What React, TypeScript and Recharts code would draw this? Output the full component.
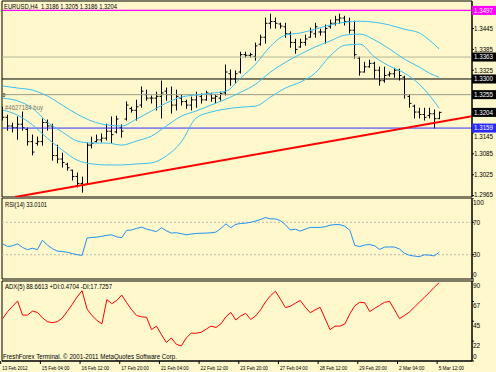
import React from 'react';
import { ComposedChart, Line, Bar, XAxis, YAxis, ReferenceLine, ReferenceArea } from 'recharts';

// ---------- data ----------
const opens = [1.3200,1.3190,1.3165,1.3160,1.3170,1.3155,1.3120,1.3115,1.3120,1.3175,
1.3165,1.3080,1.3070,1.3055,1.3038,1.3020,1.3000,1.2998,1.3110,1.3120,
1.3125,1.3130,1.3150,1.3148,1.3160,1.3185,1.3215,1.3210,1.3225,1.3255,
1.3245,1.3245,1.3250,1.3265,1.3255,1.3225,1.3245,1.3235,1.3225,1.3240,
1.3250,1.3240,1.3255,1.3245,1.3245,1.3260,1.3315,1.3300,1.3320,1.3370,
1.3368,1.3365,1.3400,1.3420,1.3460,1.3465,1.3458,1.3450,1.3430,1.3405,
1.3392,1.3405,1.3420,1.3430,1.3435,1.3435,1.3450,1.3460,1.3470,1.3475,
1.3465,1.3440,1.3360,1.3320,1.3335,1.3345,1.3325,1.3295,1.3312,1.3315,
1.3325,1.3305,1.3250,1.3222,1.3205,1.3198,1.3195,1.3200,1.3186];
const highs = [1.3219,1.3196,1.3173,1.3191,1.3205,1.3159,1.3139,1.3133,1.3185,1.3182,
1.3170,1.3110,1.3087,1.3058,1.3038,1.3030,1.3018,1.3116,1.3133,1.3139,
1.3142,1.3170,1.3191,1.3193,1.3168,1.3234,1.3219,1.3239,1.3277,1.3268,
1.3251,1.3262,1.3294,1.3274,1.3277,1.3268,1.3254,1.3239,1.3248,1.3262,
1.3257,1.3265,1.3259,1.3254,1.3262,1.3340,1.3326,1.3323,1.3377,1.3377,
1.3374,1.3403,1.3426,1.3475,1.3486,1.3475,1.3460,1.3460,1.3435,1.3414,
1.3414,1.3426,1.3446,1.3460,1.3443,1.3455,1.3469,1.3480,1.3486,1.3480,
1.3475,1.3466,1.3363,1.3348,1.3354,1.3348,1.3334,1.3334,1.3320,1.3331,
1.3328,1.3308,1.3254,1.3225,1.3216,1.3216,1.3216,1.3211,1.3205];
const lows = [1.3182,1.3153,1.3148,1.3127,1.3153,1.3110,1.3082,1.3110,1.3110,1.3153,
1.3067,1.3059,1.3047,1.3038,1.3010,1.2990,1.2975,1.2998,1.3102,1.3119,
1.3119,1.3125,1.3116,1.3145,1.3133,1.3182,1.3205,1.3182,1.3219,1.3239,
1.3231,1.3211,1.3188,1.3239,1.3202,1.3211,1.3225,1.3216,1.3211,1.3219,
1.3231,1.3239,1.3236,1.3231,1.3239,1.3254,1.3282,1.3288,1.3317,1.3363,
1.3363,1.3354,1.3397,1.3403,1.3446,1.3446,1.3446,1.3420,1.3391,1.3374,
1.3391,1.3397,1.3420,1.3420,1.3426,1.3403,1.3446,1.3455,1.3460,1.3455,
1.3432,1.3360,1.3311,1.3320,1.3334,1.3303,1.3282,1.3291,1.3308,1.3305,
1.3297,1.3245,1.3219,1.3188,1.3188,1.3182,1.3188,1.3159,1.3186];
const closes = [1.3190,1.3165,1.3160,1.3170,1.3160,1.3120,1.3090,1.3120,1.3175,1.3165,
1.3080,1.3070,1.3060,1.3045,1.3020,1.3000,1.2995,1.3110,1.3115,1.3125,
1.3130,1.3150,1.3140,1.3185,1.3150,1.3225,1.3210,1.3220,1.3265,1.3245,
1.3245,1.3250,1.3260,1.3255,1.3225,1.3250,1.3235,1.3225,1.3240,1.3255,
1.3240,1.3260,1.3245,1.3250,1.3258,1.3320,1.3300,1.3315,1.3370,1.3368,
1.3370,1.3395,1.3420,1.3460,1.3465,1.3460,1.3452,1.3430,1.3405,1.3385,
1.3405,1.3415,1.3435,1.3450,1.3435,1.3445,1.3460,1.3470,1.3475,1.3465,
1.3440,1.3370,1.3320,1.3335,1.3345,1.3325,1.3295,1.3310,1.3315,1.3325,
1.3310,1.3255,1.3230,1.3205,1.3198,1.3190,1.3200,1.3186,1.3204];
const rsiValues = [43.4,40,41,43.4,39,36.2,38,36.2,47.9,42,
37.5,34.5,34,33,31.5,30,29.2,50.5,51.3,51.7,
52.7,54,54.5,52,51,60,60.5,62.5,64,61.7,
60,58.5,63.3,59.5,56.7,57.1,56,54.6,55.5,56.2,
56.5,56.7,57,57.9,62.5,68,63.3,67.5,68.5,69,
70,71.5,73.5,75.8,74.2,74.2,72,67,60.4,61.5,
59.2,61.5,63.7,63.7,63.7,64.5,66.5,67.1,67.1,65,
60,41.5,40,42,42.5,41,36.5,39.4,39.6,39.4,
37,31.8,29.3,28.3,27.6,29.8,29.5,28.5,33.0];
const adxValues = [48,56,62,68,52,52,56.5,55,49,44.5,
43.4,44.5,48.5,56,64,72.5,79.6,59,51.5,46,
42,69.5,65,68.5,74.7,66,58,51.5,50,49.5,
35.5,39.5,30,21,26,19,17,26,31.5,31.5,
32.5,36,39.5,38,42,50,55,46.5,51,54,
47,51,58,67,74,79,70,60.5,62,65.5,
68.5,61,54.7,58,60.8,48,35.5,39.5,39.5,42,
53.5,62.5,66.5,66,56,59.7,63,66.5,67.5,58,
48,51.5,55.5,61,66.5,72,77.5,83.5,88.7];
const bandBars = [0,3,6,9,12,15,18,21,24,27,30,33,36,39,42,45,48,51,54,57,60,63,66,69,72,75,78,81,84,86,88];
const bandUpper = [1.3280,1.3274,1.3268,1.3251,1.3225,1.3199,1.3179,1.3168,1.3165,1.3185,1.3208,1.3231,1.3248,1.3254,1.3259,1.3265,1.3303,1.3343,1.3394,1.3426,1.3432,1.3443,1.3455,1.3463,1.3466,1.3463,1.3455,1.3443,1.3432,1.3412,1.3386];
const bandMiddle = [1.3245,1.3237,1.3216,1.3176,1.3148,1.3122,1.3116,1.3116,1.3110,1.3122,1.3136,1.3165,1.3193,1.3208,1.3225,1.3242,1.3262,1.3285,1.3320,1.3348,1.3371,1.3392,1.3409,1.3426,1.3429,1.3412,1.3386,1.3357,1.3334,1.3317,1.3305];
const bandLower = [1.3211,1.3196,1.3168,1.3130,1.3096,1.3067,1.3056,1.3053,1.3053,1.3056,1.3059,1.3079,1.3119,1.3188,1.3205,1.3214,1.3219,1.3222,1.3248,1.3274,1.3291,1.3317,1.3366,1.3397,1.3400,1.3363,1.3337,1.3317,1.3285,1.3254,1.3216];

const dateTickBars = [0,8,16,24,32,40,48,56,64,72,80,88];
const dateTickLabels = ['13 Feb 2012','15 Feb 04:00','16 Feb 12:00','17 Feb 20:00','21 Feb 04:00','22 Feb 12:00','23 Feb 20:00','27 Feb 04:00','28 Feb 12:00','29 Feb 20:00','2 Mar 04:00','5 Mar 12:00'];
const priceTicks = [1.2965,1.3025,1.3085,1.3145,1.3325,1.3385,1.3445];
const levelMagenta = 1.3497;
const levelUpperGray = 1.3363;
const levelBlack = 1.3300;
const levelLowerGray = 1.3255;
const levelBlue = 1.3159;
const lastPrice = 1.3204;
const trendFrom = { bar: 2.48, price: 1.2961 };
const trendTo = { bar: 94.62, price: 1.3193 };
const rsiTicks = [0, 30, 70, 100];
const rsiLevels = [30, 70];
const adxTicks = [0, 22.5, 45, 67.5, 90.6];
const adxTickLabels = ['0', '22', '45', '67', '90'];

const titleText = 'EURUSD,H4  1.3186 1.3205 1.3186 1.3204';
const rsiTitle = 'RSI(14) 33.0101';
const adxTitle = 'ADX(5) 88.6613 +DI:0.4704 -DI:17.7257';
const copyright = 'FreshForex Terminal. \u00A9 2001-2011 MetaQuotes Software Corp.';
const orderNote = '#4627184 buy';

// ---------- setup ----------
const rows: any[] = opens.map((o, i) => ({
  i, open: o, high: highs[i], low: lows[i], close: closes[i], rsi: rsiValues[i], adx: adxValues[i],
}));
bandBars.forEach((b, k) => {
  rows[b].upper = bandUpper[k];
  rows[b].middle = bandMiddle[k];
  rows[b].lower = bandLower[k];
});

const BG = '#FEF8CC';
const CYAN = '#3CC0F0';
const FONT = "'Liberation Sans', Arial, sans-serif";
const X_DOMAIN: [number, number] = [-0.14, 94.62];
const P_DOMAIN: [number, number] = [1.2961, 1.3524];
const ADX_DOMAIN: [number, number] = [0, 90.6];

const near = (a: number, b: number) => Math.abs(a - b) < 1e-6;
const boxFill = (v: number): string | null => {
  if (near(v, levelMagenta)) return '#FF00FF';
  if (near(v, levelBlue)) return '#2828FF';
  if ([levelUpperGray, levelBlack, levelLowerGray, lastPrice].some((l) => near(v, l))) return '#000';
  return null;
};

const OhlcShape = (props: any) => {
  const { x, y, width, height, payload } = props;
  if (!payload || height == null) return null;
  const cx = Math.round(x + width / 2) + 0.5;
  const r = payload.high - payload.low;
  const yo = y + (r ? ((payload.high - payload.open) / r) * height : 0);
  const yc = y + (r ? ((payload.high - payload.close) / r) * height : 0);
  return (
    <g stroke="#000" strokeWidth={1}>
      <line x1={cx} x2={cx} y1={y - 0.5} y2={y + height + 0.5} />
      <line x1={cx - 2} x2={cx} y1={yo} y2={yo} />
      <line x1={cx} x2={cx + 2} y1={yc} y2={yc} />
    </g>
  );
};

const PriceTick = (props: any) => {
  const { x, y, payload } = props;
  const v = payload.value as number;
  const fill = boxFill(v);
  const label = v.toFixed(4);
  if (fill) {
    return (
      <g>
        <rect x={x - 4} y={y - 4.5} width={24} height={9} fill={fill} />
        <text x={x - 2} y={y + 2.3} fontSize={6.5} fill="#fff" fontFamily={FONT} textLength={19} lengthAdjust="spacingAndGlyphs">{label}</text>
      </g>
    );
  }
  // labels squeezed by a nearby box / panel edge are nudged as in the reference
  const dy = near(v, 1.3145) ? 3.8 : near(v, 1.2965) ? -1 : 0;
  return (
    <text x={x - 2} y={y + 2.3 + dy} fontSize={6.5} fill="#000" fontFamily={FONT} textLength={19} lengthAdjust="spacingAndGlyphs">{label}</text>
  );
};

const RsiTick = (props: any) => {
  const { x, y, payload } = props;
  const v = payload.value as number;
  const dy = v === 100 ? 4.5 : v === 0 ? -4 : 0;
  return (
    <text x={x - 3} y={y + dy + 2.3} fontSize={6.5} fill="#000" fontFamily={FONT}>{String(v)}</text>
  );
};

const AdxTick = (props: any) => {
  const { x, y, payload, index } = props;
  const v = payload.value as number;
  const dy = v === 0 ? -4 : 4.5;
  return (
    <text x={x - 3} y={y + dy + 2.3} fontSize={6.5} fill="#000" fontFamily={FONT}>{adxTickLabels[adxTicks.indexOf(v)] ?? index}</text>
  );
};

const DateTick = (props: any) => {
  const { x, y, payload } = props;
  const idx = dateTickBars.indexOf(payload.value);
  const label = dateTickLabels[idx] ?? '';
  return (
    <g>
      <line x1={x - 2} x2={x - 2} y1={y} y2={y + 3} stroke="#000" strokeWidth={1} />
      <text x={x - 0.5} y={y + 9} fontSize={6} fill="#000" fontFamily={FONT} textLength={label.length * 2.3} lengthAdjust="spacingAndGlyphs">{label}</text>
    </g>
  );
};

const Frame = ({ y1, y2 }: { y1: number; y2: number }) => (
  <ReferenceArea x1={X_DOMAIN[0]} x2={X_DOMAIN[1]} y1={y1} y2={y2} fill="none" stroke="#000" strokeWidth={1} ifOverflow="visible" />
);

export default function App() {
  return (
    <div style={{ position: 'fixed', left: 0, top: 0, width: 496, height: 372, background: BG, overflow: 'hidden', fontFamily: FONT }}>
      <div style={{ position: 'absolute', left: 0, top: 0 }}>
        <ComposedChart width={496} height={198} data={rows} margin={{ top: 1, right: 0, bottom: 1, left: 2 }}>
          <XAxis dataKey="i" type="number" domain={X_DOMAIN} hide allowDataOverflow />
          <YAxis orientation="right" width={24} domain={P_DOMAIN} allowDataOverflow interval={0}
            ticks={[...priceTicks, levelMagenta, levelUpperGray, levelBlack, levelLowerGray, lastPrice, levelBlue]}
            tick={PriceTick} tickSize={2} axisLine={{ stroke: '#000' }} tickLine={{ stroke: '#000' }} />
          {Frame({ y1: P_DOMAIN[0], y2: P_DOMAIN[1] })}
          <ReferenceLine y={levelMagenta} stroke="#FF00FF" strokeWidth={1.2} />
          <ReferenceLine y={levelUpperGray} stroke="#B4B498" strokeWidth={1} />
          <ReferenceLine y={levelBlack} stroke="#000" strokeWidth={1} />
          <ReferenceLine y={levelLowerGray} stroke="#9A9A88" strokeWidth={1} />
          <ReferenceLine y={levelBlue} stroke="#3030FF" strokeWidth={1} />
          <ReferenceLine segment={[{ x: trendFrom.bar, y: trendFrom.price }, { x: trendTo.bar, y: trendTo.price }]} stroke="#FF0000" strokeWidth={2} ifOverflow="hidden" />
          <Line dataKey="upper" type="monotone" stroke={CYAN} strokeWidth={1} dot={false} connectNulls isAnimationActive={false} />
          <Line dataKey="middle" type="monotone" stroke={CYAN} strokeWidth={1} dot={false} connectNulls isAnimationActive={false} />
          <Line dataKey="lower" type="monotone" stroke={CYAN} strokeWidth={1} dot={false} connectNulls isAnimationActive={false} />
          <Bar dataKey={(d: any) => [d.low, d.high]} barSize={4} shape={OhlcShape} isAnimationActive={false} />
        </ComposedChart>
      </div>
      <div style={{ position: 'absolute', left: 0, top: 198 }}>
        <ComposedChart width={496} height={82} data={rows} margin={{ top: 0, right: 0, bottom: 1, left: 2 }}>
          <XAxis dataKey="i" type="number" domain={X_DOMAIN} hide allowDataOverflow />
          <YAxis orientation="right" width={24} domain={[0, 100]} ticks={rsiTicks} interval={0} tick={RsiTick}
            tickSize={2} axisLine={{ stroke: '#000' }} tickLine={{ stroke: '#000' }} />
          {Frame({ y1: 0, y2: 100 })}
          {rsiLevels.map((l) => (
            <ReferenceLine key={l} y={l} stroke="#BDBDB0" strokeDasharray="2 2" strokeWidth={1} />
          ))}
          <Line dataKey="rsi" type="linear" stroke="#2090F0" strokeWidth={1} dot={false} isAnimationActive={false} />
        </ComposedChart>
      </div>
      <div style={{ position: 'absolute', left: 0, top: 280 }}>
        <ComposedChart width={496} height={92} data={rows} margin={{ top: 1, right: 0, bottom: 0, left: 2 }}>
          <XAxis dataKey="i" type="number" domain={X_DOMAIN} allowDataOverflow ticks={dateTickBars} interval={0}
            height={11} tick={DateTick} tickSize={0} tickMargin={0} axisLine={{ stroke: '#000' }} tickLine={false} />
          <YAxis orientation="right" width={24} domain={ADX_DOMAIN} ticks={adxTicks} interval={0} tick={AdxTick}
            tickSize={2} axisLine={{ stroke: '#000' }} tickLine={{ stroke: '#000' }} allowDataOverflow />
          {Frame({ y1: ADX_DOMAIN[0], y2: ADX_DOMAIN[1] })}
          <Line dataKey="adx" type="linear" stroke="#FF0000" strokeWidth={1} dot={false} isAnimationActive={false} />
        </ComposedChart>
      </div>
      <svg width={496} height={372} style={{ position: 'absolute', left: 0, top: 0, pointerEvents: 'none' }}>
        <text x={4} y={9} fontSize={7} fontFamily={FONT} fill="#000" textLength={113} lengthAdjust="spacingAndGlyphs" style={{ whiteSpace: 'pre' }}>{titleText}</text>
        <text x={5} y={110} fontSize={6.5} fontFamily={FONT} fill="#7A7A6A" textLength={38} lengthAdjust="spacingAndGlyphs">{orderNote}</text>
        <text x={2.5} y={96.5} fontSize={5} fontFamily={FONT} fill="#000">0</text>
        <text x={5} y={207} fontSize={6.5} fontFamily={FONT} fill="#000" textLength={42} lengthAdjust="spacingAndGlyphs">{rsiTitle}</text>
        <text x={5} y={289} fontSize={6.5} fontFamily={FONT} fill="#000" textLength={107} lengthAdjust="spacingAndGlyphs">{adxTitle}</text>
        <text x={3} y={359} fontSize={6.5} fontFamily={FONT} fill="#000" textLength={174} lengthAdjust="spacingAndGlyphs">{copyright}</text>
      </svg>
    </div>
  );
}
